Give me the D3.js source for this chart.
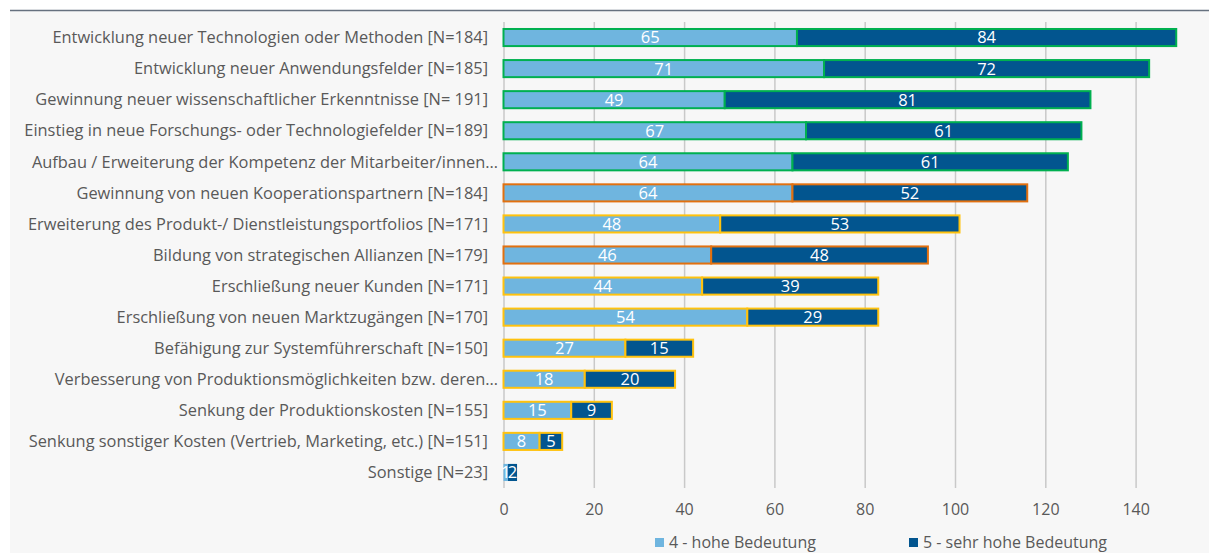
<!DOCTYPE html>
<html>
<head>
<meta charset="utf-8">
<script src="https://cdn.jsdelivr.net/npm/d3@7"></script>
<style>
  html, body { margin: 0; padding: 0; background: #ffffff; }
  svg { display: block; }
  text { font-family: "Open Sans", "Liberation Sans", sans-serif; }
</style>
</head>
<body>
<svg id="chart" width="1209" height="553"></svg>
<script>
// Ziele der Zusammenarbeit – Anzahl der Nennungen je Bedeutungsstufe
const categories = [
  "Entwicklung neuer Technologien oder Methoden [N=184]",
  "Entwicklung neuer Anwendungsfelder [N=185]",
  "Gewinnung neuer wissenschaftlicher Erkenntnisse [N= 191]",
  "Einstieg in neue Forschungs- oder Technologiefelder [N=189]",
  "Aufbau / Erweiterung der Kompetenz der Mitarbeiter/innen…",
  "Gewinnung von neuen Kooperationspartnern [N=184]",
  "Erweiterung des Produkt-/ Dienstleistungsportfolios [N=171]",
  "Bildung von strategischen Allianzen  [N=179]",
  "Erschließung neuer Kunden  [N=171]",
  "Erschließung von neuen Marktzugängen [N=170]",
  "Befähigung zur Systemführerschaft [N=150]",
  "Verbesserung von Produktionsmöglichkeiten bzw. deren…",
  "Senkung der Produktionskosten [N=155]",
  "Senkung sonstiger Kosten (Vertrieb, Marketing, etc.) [N=151]",
  "Sonstige [N=23]"
];
const hoheBedeutung     = [65, 71, 49, 67, 64, 64, 48, 46, 44, 54, 27, 18, 15, 8, 1];
const sehrHoheBedeutung = [84, 72, 81, 61, 61, 52, 53, 48, 39, 29, 15, 20,  9, 5, 2];
// Rahmengruppe je Zeile (grün / orange / gelb / ohne)
const outlineGroup = ["g", "g", "g", "g", "g", "o", "y", "o", "y", "y", "y", "y", "y", "y", "n"];
const xTicks = [0, 20, 40, 60, 80, 100, 120, 140];
const seriesNames = ["4 - hohe Bedeutung", "5 - sehr hohe Bedeutung"];

const seriesColors = ["#6fb5df", "#02558f"];
const outlineColors = { g: "#00b050", o: "#e2700f", y: "#ffc20e", n: null };

const W = 1209, H = 553;
const svg = d3.select("#chart");

// Hintergrund und obere Trennlinie
svg.append("rect").attr("x", 0).attr("y", 0).attr("width", W).attr("height", H).attr("fill", "#ffffff");
svg.append("rect").attr("x", 10).attr("y", 10).attr("width", W - 10).attr("height", H - 10).attr("fill", "#f7f7f7");
svg.append("line").attr("x1", 10).attr("x2", W).attr("y1", 10.5).attr("y2", 10.5)
  .attr("stroke", "#66717f").attr("stroke-width", 1.5);

const plot = { left: 503.5, top: 22, bottom: 488 };
const x = d3.scaleLinear().domain([0, 150]).range([plot.left, plot.left + 150 * 4.515]);
const y = d3.scaleBand().domain(categories).range([plot.top, plot.bottom])
  .paddingInner(0.45).paddingOuter(0.225);

// Gitterlinien und Achsenbeschriftung
const xAxis = d3.axisBottom(x).tickValues(xTicks).tickFormat(d3.format("d"))
  .tickSize(-(plot.bottom - plot.top)).tickPadding(16);
const gx = svg.append("g").attr("transform", `translate(0,${plot.bottom})`).call(xAxis);
gx.select(".domain").remove();
gx.selectAll(".tick line").attr("stroke", "#c9c9c9").attr("stroke-width", 1.5);
gx.selectAll(".tick text").attr("fill", "#595959").style("font-size", "16px");

// Kategorienbeschriftung
svg.append("g").selectAll("text").data(categories).join("text")
  .attr("x", d => d.endsWith("…") ? 498 : 488)
  .attr("y", d => y(d) + y.bandwidth() / 2)
  .attr("dy", "0.35em")
  .attr("text-anchor", "end")
  .attr("fill", "#595959")
  .style("font-size", "16.4px")
  .text(d => d);

// Gestapelte Balken
const rows = categories.map((c, i) => ({
  cat: c, v: [hoheBedeutung[i], sehrHoheBedeutung[i]], outline: outlineColors[outlineGroup[i]]
}));
const segs = [];
rows.forEach(r => {
  let x0 = 0;
  r.v.forEach((v, k) => {
    segs.push({ cat: r.cat, x0, x1: x0 + v, v, k, outline: r.outline });
    x0 += v;
  });
});

svg.append("g").selectAll("rect").data(segs).join("rect")
  .attr("x", d => x(d.x0))
  .attr("y", d => y(d.cat))
  .attr("width", d => x(d.x1) - x(d.x0))
  .attr("height", y.bandwidth())
  .attr("fill", d => seriesColors[d.k])
  .attr("stroke", d => d.outline || "none")
  .attr("stroke-width", 2);

svg.append("g").selectAll("text").data(segs).join("text")
  .attr("x", d => (x(d.x0) + x(d.x1)) / 2)
  .attr("y", d => y(d.cat) + y.bandwidth() / 2)
  .attr("dy", "0.36em")
  .attr("text-anchor", "middle")
  .attr("fill", "#ffffff")
  .style("font-size", "16.5px")
  .text(d => d.v);

// Legende
const legend = [
  { name: seriesNames[0], color: seriesColors[0], x: 655 },
  { name: seriesNames[1], color: seriesColors[1], x: 909 }
];
const lg = svg.append("g").selectAll("g").data(legend).join("g")
  .attr("transform", d => `translate(${d.x},538)`);
lg.append("rect").attr("width", 9).attr("height", 9).attr("fill", d => d.color);
lg.append("text").attr("x", 14).attr("y", 4.5).attr("dy", "0.35em")
  .attr("fill", "#595959").style("font-size", "16px").text(d => d.name);
</script>
</body>
</html>
